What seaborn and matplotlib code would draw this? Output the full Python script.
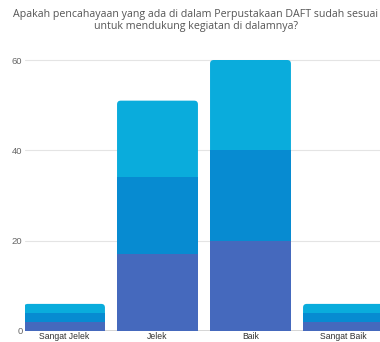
import matplotlib
matplotlib.use("Agg")
import matplotlib.pyplot as plt
from matplotlib.patches import FancyBboxPatch
import numpy as np
import seaborn as sns

# Survey answers and the three stacked bands for each answer
categories = ["Sangat Jelek", "Jelek", "Baik", "Sangat Baik"]
band_low = [2, 17, 20, 2]
band_mid = [2, 17, 20, 2]
band_high = [2, 17, 20, 2]
y_ticks = [0, 20, 40, 60]
title = ("Apakah pencahayaan yang ada di dalam Perpustakaan DAFT sudah sesuai\n"
         "untuk mendukung kegiatan di dalamnya?")

color_low = "#4569bd"
color_mid = "#078bd1"
color_high = "#0aacdc"

sns.set_theme(style="white")
plt.rcParams["font.family"] = ["Liberation Sans", "DejaVu Sans"]

fig = plt.figure(figsize=(3.8, 3.42), dpi=100)
W, H = 380, 342
ax_left = 24.5 / W
ax_bottom = 1 - 331 / H
px_per_unit_y = (331 - 60) / 60
ymax = 63
ax_height = ymax * px_per_unit_y / H
xmin, xmax = -0.43, 3.5
ax_width = (xmax - xmin) * 93 / W
ax = fig.add_axes([ax_left, ax_bottom, ax_width, ax_height])

low = np.array(band_low)
mid_top = low + np.array(band_mid)
high_top = mid_top + np.array(band_high)

bar_w = 0.87
sns.barplot(x=categories, y=high_top, color=color_high, saturation=1,
            width=bar_w, ax=ax, linewidth=0)
n_high = len(ax.patches)
sns.barplot(x=categories, y=mid_top, color=color_mid, saturation=1,
            width=bar_w, ax=ax, linewidth=0)
n_mid = len(ax.patches)
sns.barplot(x=categories, y=low, color=color_low, saturation=1,
            width=bar_w, ax=ax, linewidth=0)

ax.set_xlim(xmin, xmax)
ax.set_ylim(0, ymax)

# Aspect between data units in y and x, so the corner rounding is circular
fig.canvas.draw()
p0 = ax.transData.transform((0, 0))
p1 = ax.transData.transform((1, 1))
aspect = (1 / (p1[1] - p0[1])) / (1 / (p1[0] - p0[0]))

patches = list(ax.patches)
for i, p in enumerate(patches):
    if i < n_high:
        p.set_visible(False)
        rp = FancyBboxPatch((p.get_x(), p.get_y()), p.get_width(), p.get_height(),
                            boxstyle="round,pad=0,rounding_size=0.04",
                            mutation_aspect=aspect, facecolor=color_high,
                            edgecolor="none", zorder=2)
        ax.add_patch(rp)
    elif i < n_mid:
        p.set_zorder(3)
    else:
        p.set_zorder(4)

ax.set_yticks(y_ticks)
ax.set_yticklabels([str(t) for t in y_ticks])
ax.yaxis.grid(True, color="#e4e4e4", linewidth=0.8, zorder=0)
ax.set_axisbelow(True)
for s in ax.spines.values():
    s.set_visible(False)
ax.axhline(0, color="#cfcfcf", linewidth=1.2, zorder=1)
ax.tick_params(axis="y", length=0, pad=1.5, labelsize=6.8, labelcolor="#666666")
ax.tick_params(axis="x", length=0, pad=0.8, labelsize=6.2, labelcolor="#333333")
ax.set_xlabel("")
ax.set_ylabel("")

fig.text(0.515, 1 - 8.5 / H, title, ha="center", va="top", fontsize=7.7,
         color="#555555", family=["Open Sans", "DejaVu Sans"], linespacing=1.25)

fig.savefig("out.png", dpi=100, facecolor="white")
